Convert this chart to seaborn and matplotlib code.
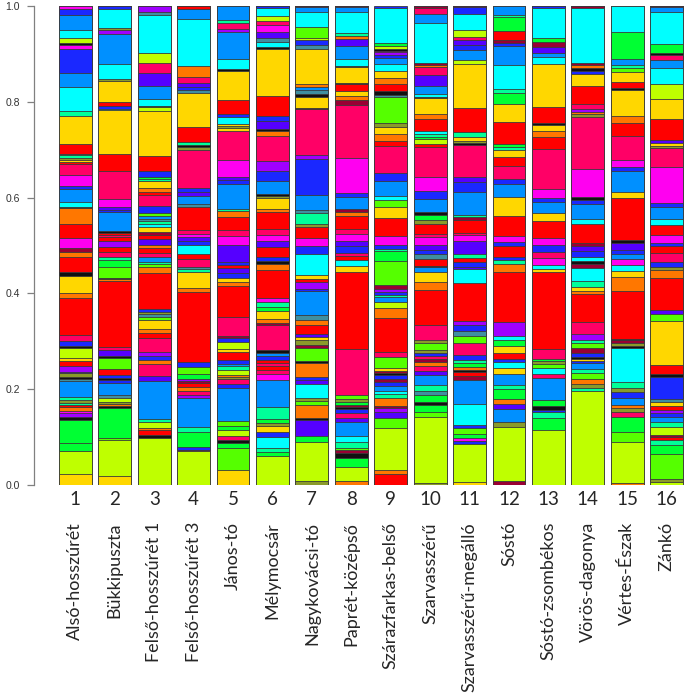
import pandas as pd
import matplotlib
matplotlib.use("Agg")
import matplotlib.pyplot as plt
import matplotlib.transforms as mtransforms
import seaborn as sns

# sites (x axis)
site_numbers = ["1", "2", "3", "4", "5", "6", "7", "8",
                "9", "10", "11", "12", "13", "14", "15", "16"]
site_names = ["Alsó-hosszúrét", "Bükkipuszta", "Felső-hosszúrét 1", "Felső-hosszúrét 3",
              "János-tó", "Mélymocsár", "Nagykovácsi-tó", "Paprét-középső",
              "Szárazfarkas-belső", "Szarvasszérű", "Szarvasszérű-megálló", "Sóstó",
              "Sóstó-zsombékos", "Vörös-dagonya", "Vértes-Észak", "Zánkó"]

# colour codes used for the stacked segments
palette = {
    "Y": "#BFFF00", "L": "#55FF00", "G": "#00FF33", "T": "#00FF99",
    "C": "#00FFFF", "B": "#0090FF", "N": "#1A28FF", "V": "#5500FF",
    "U": "#A000FF", "M": "#FF00F0", "P": "#FF0066", "R": "#FF0000",
    "A": "#FF7700", "O": "#FFD700", "K": "#111111", "D": "#990033",
    "E": "#8A9A2A", "S": "#3F8FA0",
}

# segment colours, bottom to top, one string per site
bar_colors = [
    "O Y G G K U M A R T E T B S K E N U R O Y K N P R A O K R A D M R A K C B N M P R O E T S R O T C B N M K Y C B N M",
    "O Y L G K A E Y S B N K N R L K V P R A K L G T P R U R P R K B N V M P R O C N R O E C B U E C N",
    "Y K R A Y T B V P A N U P R A O L S E N R A L T B P R A V R D O C T S B L N P R A O T G N R O Y K C B V P Y C S U",
    "Y D N G T B U P A R D U G L N R A O T S P R C N V M P R S B V N P E K T R O S N V P A C B R",
    "O L G K P Y G L B N P E A Y T B N R O Y N D P R A O N V R N V M P R A T B N V M P O E O C N R O K C B U P T B",
    "Y G T C N O E G T B M P R P R N B K P D A O G T M R A K N R V M P R A O E K B N U P A K V N R O K C S V M P Y C N",
    "E Y G V K A L E C V N A K L D E O V R A S B N U R O C N M R E T S B N U P K O K S B A O S N Y L C B D",
    "A Y G K D L T C B V P N K D G E L P R O C R P N V M P R A D B N M P D A O R K O K C B V A T C B D",
    "R A Y L V U D A T C B N D N K D O L P R A Y B T N U D L G T N M R O L C B N P R A O E L S K R A O C B N U M K Y G C N",
    "E Y L G K G S T B V P A D P N E L E P R A O B K R S N V M P R E G K B N M P R Y G T C R A O K C B V P A D C B P D",
    "O Y N M G L N C B D R K A G T N P L S N U R C V N R T V M P R D T B N V P K E O T R O Y B N V P Y C N D",
    "D Y E B V A G T B O C N R O G C U R A T N R N M R O B N P R O T G R O G T C B N D R G T B",
    "Y G T N K G B P C L E G P R O C M P N M R O B N M P R A O K R O C B V D G C N",
    "Y T E A L T B N O K N D L T U P R A O T C D K C N V D R C B N K M P E A U P R O N K A D C D",
    "A Y L G P E A B N E T C K E D K R A O C M B N V K R O B N M P R A O K R O L T B G C",
    "Y E L G T R D Y T B N U R O S N K R O L V R A E N P R N M R C B N M P E O V R O Y C B P K G C B D",
]

# cumulative proportion at the top of each segment, bottom to top
bar_tops = [
    [0.022, 0.071, 0.088, 0.136, 0.141, 0.150, 0.155, 0.162, 0.166, 0.172, 0.178, 0.184, 0.217, 0.222, 0.226,
     0.233, 0.236, 0.249, 0.259, 0.266, 0.287, 0.291, 0.301, 0.313, 0.391, 0.400, 0.436, 0.445, 0.477, 0.487,
     0.495, 0.516, 0.545, 0.578, 0.581, 0.591, 0.618, 0.625, 0.647, 0.670, 0.674, 0.679, 0.683, 0.688, 0.692,
     0.712, 0.770, 0.781, 0.831, 0.860, 0.910, 0.918, 0.922, 0.933, 0.950, 0.981, 0.994, 1.0],
    [0.019, 0.094, 0.099, 0.160, 0.164, 0.169, 0.174, 0.181, 0.188, 0.213, 0.219, 0.224, 0.230, 0.243, 0.266,
     0.269, 0.282, 0.289, 0.426, 0.431, 0.433, 0.456, 0.469, 0.476, 0.487, 0.497, 0.510, 0.518, 0.522, 0.527,
     0.531, 0.569, 0.575, 0.580, 0.597, 0.656, 0.691, 0.783, 0.786, 0.791, 0.799, 0.844, 0.848, 0.879, 0.941,
     0.950, 0.955, 0.993, 1.0],
    [0.099, 0.104, 0.114, 0.120, 0.131, 0.138, 0.217, 0.227, 0.252, 0.260, 0.270, 0.277, 0.307, 0.318, 0.326,
     0.345, 0.350, 0.356, 0.361, 0.368, 0.442, 0.456, 0.461, 0.466, 0.477, 0.484, 0.494, 0.501, 0.513, 0.521,
     0.528, 0.539, 0.545, 0.551, 0.556, 0.562, 0.567, 0.583, 0.605, 0.612, 0.619, 0.634, 0.639, 0.643, 0.656,
     0.687, 0.781, 0.789, 0.791, 0.806, 0.834, 0.860, 0.881, 0.901, 0.981, 0.988, 1.0],
    [0.070, 0.074, 0.079, 0.110, 0.122, 0.181, 0.187, 0.197, 0.205, 0.212, 0.217, 0.221, 0.231, 0.246, 0.257,
     0.402, 0.411, 0.445, 0.450, 0.455, 0.472, 0.482, 0.501, 0.509, 0.517, 0.525, 0.533, 0.580, 0.586, 0.603,
     0.611, 0.620, 0.699, 0.705, 0.710, 0.716, 0.747, 0.819, 0.824, 0.830, 0.840, 0.852, 0.874, 0.973, 0.993,
     1.0],
    [0.032, 0.077, 0.087, 0.093, 0.102, 0.115, 0.124, 0.134, 0.202, 0.211, 0.222, 0.226, 0.229, 0.240, 0.248,
     0.253, 0.260, 0.277, 0.284, 0.299, 0.306, 0.312, 0.350, 0.415, 0.424, 0.432, 0.442, 0.452, 0.459, 0.466,
     0.501, 0.519, 0.533, 0.559, 0.572, 0.577, 0.628, 0.636, 0.644, 0.679, 0.740, 0.745, 0.750, 0.754, 0.768,
     0.775, 0.804, 0.864, 0.868, 0.890, 0.945, 0.953, 0.964, 0.970, 1.0],
    [0.060, 0.068, 0.077, 0.101, 0.110, 0.123, 0.130, 0.138, 0.163, 0.220, 0.231, 0.240, 0.248, 0.254, 0.262,
     0.270, 0.276, 0.282, 0.334, 0.338, 0.347, 0.363, 0.372, 0.382, 0.391, 0.449, 0.462, 0.467, 0.476, 0.497,
     0.510, 0.521, 0.535, 0.569, 0.576, 0.599, 0.604, 0.608, 0.634, 0.656, 0.677, 0.729, 0.740, 0.744, 0.760,
     0.771, 0.813, 0.910, 0.914, 0.924, 0.934, 0.945, 0.961, 0.969, 0.979, 0.995, 1.0],
    [0.009, 0.090, 0.102, 0.136, 0.139, 0.168, 0.176, 0.181, 0.211, 0.220, 0.226, 0.255, 0.259, 0.286, 0.293,
     0.302, 0.308, 0.316, 0.334, 0.345, 0.354, 0.406, 0.409, 0.423, 0.431, 0.438, 0.482, 0.498, 0.516, 0.538,
     0.544, 0.567, 0.575, 0.606, 0.681, 0.689, 0.784, 0.788, 0.811, 0.816, 0.824, 0.830, 0.838, 0.910, 0.918,
     0.928, 0.934, 0.957, 0.988, 0.997, 1.0],
    [0.009, 0.037, 0.056, 0.067, 0.073, 0.078, 0.090, 0.102, 0.132, 0.139, 0.150, 0.158, 0.162, 0.166, 0.173,
     0.180, 0.188, 0.284, 0.444, 0.457, 0.470, 0.478, 0.485, 0.499, 0.510, 0.525, 0.534, 0.562, 0.570, 0.577,
     0.601, 0.609, 0.683, 0.793, 0.804, 0.812, 0.823, 0.837, 0.840, 0.872, 0.874, 0.890, 0.917, 0.931, 0.937,
     0.944, 0.988, 0.997, 1.0],
    [0.024, 0.031, 0.119, 0.140, 0.152, 0.160, 0.165, 0.181, 0.189, 0.197, 0.206, 0.214, 0.222, 0.230, 0.234,
     0.237, 0.245, 0.268, 0.278, 0.348, 0.370, 0.383, 0.392, 0.397, 0.402, 0.409, 0.418, 0.468, 0.488, 0.493,
     0.502, 0.519, 0.557, 0.580, 0.594, 0.604, 0.634, 0.652, 0.708, 0.719, 0.733, 0.748, 0.755, 0.811, 0.814,
     0.823, 0.838, 0.849, 0.865, 0.879, 0.891, 0.898, 0.905, 0.907, 0.910, 0.917, 0.922, 0.995, 1.0],
    [0.005, 0.143, 0.152, 0.166, 0.173, 0.187, 0.197, 0.209, 0.230, 0.238, 0.248, 0.257, 0.264, 0.269, 0.275,
     0.282, 0.297, 0.302, 0.333, 0.407, 0.424, 0.444, 0.455, 0.458, 0.471, 0.482, 0.490, 0.501, 0.517, 0.524,
     0.545, 0.553, 0.564, 0.569, 0.597, 0.614, 0.644, 0.706, 0.712, 0.722, 0.727, 0.732, 0.738, 0.764, 0.775,
     0.807, 0.810, 0.816, 0.834, 0.855, 0.872, 0.877, 0.881, 0.965, 0.983, 0.995, 1.0],
    [0.006, 0.085, 0.092, 0.099, 0.107, 0.119, 0.125, 0.169, 0.220, 0.228, 0.235, 0.240, 0.246, 0.255, 0.260,
     0.271, 0.297, 0.312, 0.322, 0.334, 0.342, 0.422, 0.451, 0.456, 0.465, 0.474, 0.482, 0.510, 0.522, 0.527,
     0.553, 0.559, 0.564, 0.611, 0.633, 0.644, 0.710, 0.713, 0.719, 0.727, 0.736, 0.787, 0.879, 0.888, 0.909,
     0.918, 0.929, 0.936, 0.949, 0.983, 0.997, 1.0],
    [0.009, 0.122, 0.132, 0.159, 0.169, 0.180, 0.200, 0.209, 0.232, 0.245, 0.256, 0.263, 0.276, 0.291, 0.302,
     0.311, 0.341, 0.444, 0.462, 0.470, 0.477, 0.499, 0.507, 0.520, 0.562, 0.601, 0.628, 0.639, 0.665, 0.685,
     0.700, 0.706, 0.712, 0.757, 0.795, 0.819, 0.827, 0.876, 0.916, 0.922, 0.929, 0.947, 0.976, 0.981, 1.0],
    [0.114, 0.140, 0.152, 0.157, 0.164, 0.177, 0.224, 0.231, 0.245, 0.253, 0.259, 0.264, 0.284, 0.444, 0.451,
     0.459, 0.473, 0.486, 0.501, 0.516, 0.552, 0.567, 0.591, 0.600, 0.618, 0.702, 0.726, 0.740, 0.751, 0.756,
     0.790, 0.878, 0.894, 0.902, 0.915, 0.924, 0.933, 0.995, 1.0],
    [0.196, 0.203, 0.210, 0.221, 0.233, 0.243, 0.254, 0.259, 0.264, 0.268, 0.276, 0.285, 0.296, 0.302, 0.316,
     0.341, 0.398, 0.405, 0.414, 0.425, 0.453, 0.462, 0.467, 0.477, 0.488, 0.498, 0.505, 0.545, 0.555, 0.587,
     0.596, 0.602, 0.660, 0.769, 0.774, 0.779, 0.786, 0.795, 0.833, 0.857, 0.865, 0.870, 0.876, 0.882, 0.995,
     1.0],
    [0.005, 0.090, 0.111, 0.141, 0.152, 0.160, 0.166, 0.181, 0.195, 0.202, 0.216, 0.287, 0.290, 0.297, 0.302,
     0.305, 0.404, 0.435, 0.446, 0.459, 0.471, 0.483, 0.490, 0.506, 0.511, 0.599, 0.611, 0.656, 0.663, 0.679,
     0.728, 0.755, 0.771, 0.825, 0.828, 0.841, 0.863, 0.870, 0.876, 0.889, 0.945, 1.0],
    [0.006, 0.013, 0.064, 0.084, 0.093, 0.100, 0.104, 0.121, 0.131, 0.141, 0.150, 0.157, 0.164, 0.174, 0.180,
     0.226, 0.231, 0.250, 0.342, 0.357, 0.365, 0.432, 0.448, 0.456, 0.465, 0.485, 0.498, 0.506, 0.522, 0.543,
     0.556, 0.580, 0.588, 0.664, 0.703, 0.708, 0.713, 0.720, 0.765, 0.806, 0.837, 0.870, 0.887, 0.897, 0.902,
     0.921, 0.988, 0.997, 1.0],
]

sns.set_style("white")
plt.rcParams["font.family"] = ["Lato", "DejaVu Sans"]

W, H = 685, 698
fig = plt.figure(figsize=(W / 100, H / 100), dpi=100)
ax = fig.add_axes([34 / W, (H - 485) / H, 674 / W, 479 / H])

# stacked bars: draw cumulative tops from the highest layer down,
# each lower layer painting over the one above it
n_layers = max(len(t) for t in bar_tops)
for k in range(n_layers - 1, -1, -1):
    heights, colors = [], []
    for tops, cols in zip(bar_tops, bar_colors):
        codes = cols.split()
        j = min(k, len(tops) - 1)
        heights.append(tops[j])
        colors.append(palette[codes[j]])
    layer = pd.DataFrame({"site": site_numbers, "top": heights})
    sns.barplot(data=layer, x="site", y="top", hue="site", palette=colors,
                order=site_numbers, hue_order=site_numbers, dodge=False,
                legend=False, width=1 / 1.2, errorbar=None, saturation=1,
                edgecolor="#3a3a3a", linewidth=0.6, ax=ax)

ax.set_xlim(-1.051, 16.051)
ax.set_ylim(0, 1)
ax.set_xlabel("")
ax.set_ylabel("")

for side in ["top", "right", "bottom"]:
    ax.spines[side].set_visible(False)
ax.spines["left"].set_bounds(0, 1)
ax.spines["left"].set_color("#808080")
ax.spines["left"].set_linewidth(0.9)

ax.set_yticks([0, 0.2, 0.4, 0.6, 0.8, 1.0])
ax.set_yticklabels(["0.0", "0.2", "0.4", "0.6", "0.8", "1.0"],
                   fontsize=7.5, color="#333333", family="Liberation Sans")
ax.tick_params(axis="y", left=True, length=5, width=0.9, color="#808080", pad=5)

ax.set_xticks(range(len(site_numbers)))
ax.set_xticklabels(site_numbers, fontsize=13.5)
ax.tick_params(axis="x", bottom=False, length=0, pad=4)

trans = mtransforms.blended_transform_factory(ax.transData, fig.transFigure)
for i, name in enumerate(site_names):
    ax.text(i, 1 - 522 / H, name, rotation=90, ha="center", va="top",
            fontsize=13, transform=trans)

fig.savefig("out.png", dpi=100)
